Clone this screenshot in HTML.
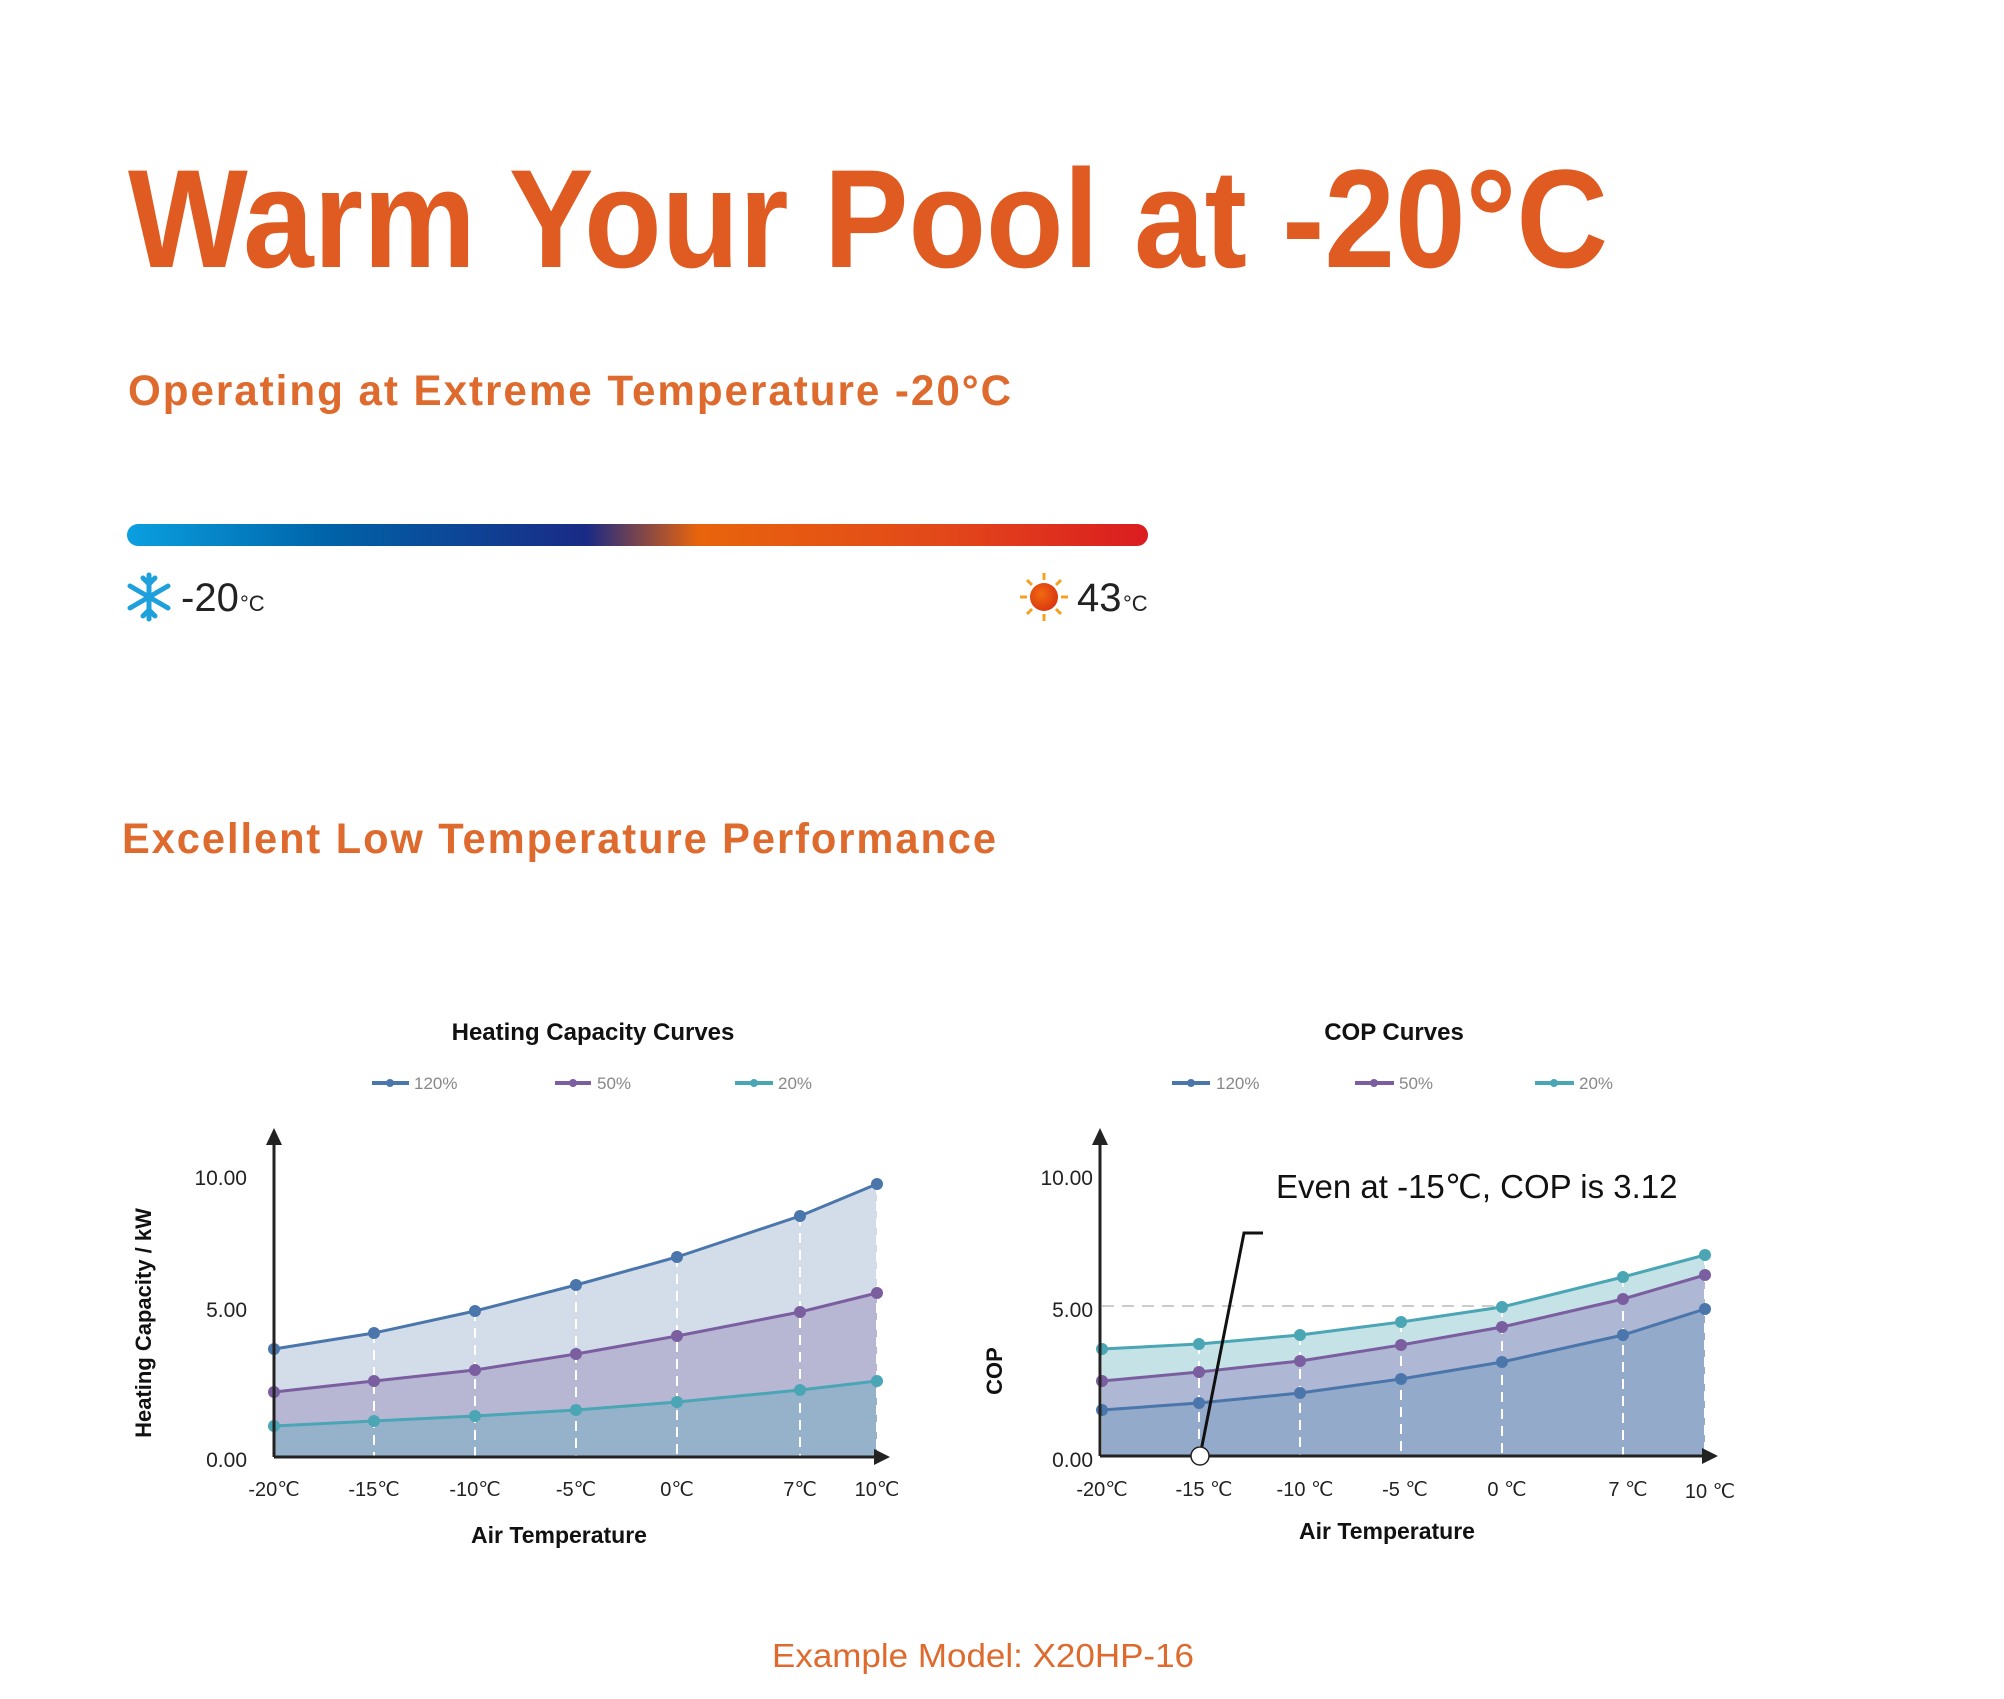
<!DOCTYPE html>
<html><head><meta charset="utf-8"><style>html,body{margin:0;padding:0;background:#fff}svg{display:block}</style></head>
<body>
<svg width="2004" height="1699" viewBox="0 0 2004 1699" xmlns="http://www.w3.org/2000/svg" font-family="Liberation Sans, sans-serif">
<defs>
<linearGradient id="bar" x1="0" x2="1" y1="0" y2="0">
<stop offset="0" stop-color="#0aa0e0"/><stop offset="0.2" stop-color="#0062a8"/><stop offset="0.45" stop-color="#1a2a85"/><stop offset="0.56" stop-color="#e8640c"/><stop offset="0.8" stop-color="#e2481a"/><stop offset="1" stop-color="#db1c20"/>
</linearGradient>
<radialGradient id="sun" cx="0.4" cy="0.4" r="0.7"><stop offset="0" stop-color="#f06a10"/><stop offset="1" stop-color="#d8300f"/></radialGradient>
</defs>
<text x="128" y="267" font-size="140" font-weight="bold" fill="#df5b22" textLength="1480" lengthAdjust="spacingAndGlyphs">Warm Your Pool at -20°C</text>
<text x="128" y="405" font-size="43" font-weight="bold" fill="#df6a2e" textLength="885" lengthAdjust="spacingAndGlyphs" letter-spacing="2">Operating at Extreme Temperature -20°C</text>
<rect x="127" y="524" width="1021" height="22" rx="11" fill="url(#bar)"/>
<g stroke="#1ea0dc" stroke-width="5" stroke-linecap="round" fill="none" transform="translate(149,597)">
<line x1="0" y1="-22" x2="0" y2="22"/><line x1="-19" y1="-11" x2="19" y2="11"/><line x1="-19" y1="11" x2="19" y2="-11"/>
<polyline points="-6,-19 0,-13 6,-19"/><polyline points="-6,19 0,13 6,19"/>
</g>
<text x="181" y="611" font-size="40" fill="#222">-20</text><text x="240" y="611" font-size="22" fill="#222">°C</text>
<g transform="translate(1044,597)">
<g stroke="#f5a020" stroke-width="3"><line x1="0" y1="-24" x2="0" y2="-17"/><line x1="0" y1="24" x2="0" y2="17"/><line x1="-24" y1="0" x2="-17" y2="0"/><line x1="24" y1="0" x2="17" y2="0"/><line x1="-17" y1="-17" x2="-12" y2="-12"/><line x1="17" y1="17" x2="12" y2="12"/><line x1="-17" y1="17" x2="-12" y2="12"/><line x1="17" y1="-17" x2="12" y2="-12"/></g>
<circle r="14" fill="url(#sun)"/></g>
<text x="1077" y="611" font-size="40" fill="#222">43</text><text x="1123" y="611" font-size="22" fill="#222">°C</text>
<text x="122" y="853" font-size="43" font-weight="bold" fill="#df6a2e" textLength="876" lengthAdjust="spacingAndGlyphs" letter-spacing="2">Excellent Low Temperature Performance</text>
<text x="983" y="1667" font-size="33" fill="#df6a2e" text-anchor="middle" textLength="422" lengthAdjust="spacingAndGlyphs">Example Model: X20HP-16</text>

<!-- Chart 1 -->
<g>
<text x="593" y="1040" font-size="24" font-weight="bold" text-anchor="middle" fill="#111">Heating Capacity Curves</text>
<g font-size="17" fill="#888">
<line x1="372" y1="1083" x2="409" y2="1083" stroke="#4a76ab" stroke-width="4"/><circle cx="390" cy="1083" r="4" fill="#4a76ab"/><text x="414" y="1089">120%</text>
<line x1="555" y1="1083" x2="591" y2="1083" stroke="#7b5ea0" stroke-width="4"/><circle cx="573" cy="1083" r="4" fill="#7b5ea0"/><text x="597" y="1089">50%</text>
<line x1="735" y1="1083" x2="773" y2="1083" stroke="#4aa5b5" stroke-width="4"/><circle cx="754" cy="1083" r="4" fill="#4aa5b5"/><text x="778" y="1089">20%</text>
</g>
<polygon points="274,1349 374,1333 475,1311 576,1285 677,1257 800,1216 877,1184 877,1457 274,1457" fill="#d3dde9"/>
<polygon points="274,1392 374,1381 475,1370 576,1354 677,1336 800,1312 877,1293 877,1457 274,1457" fill="#b7b7d4"/>
<polygon points="274,1426 374,1421 475,1416 576,1410 677,1402 800,1390 877,1381 877,1457 274,1457" fill="#95b2ca"/>
<g stroke="#fff" stroke-width="2" stroke-dasharray="10,7">
<line x1="374" y1="1333" x2="374" y2="1457"/><line x1="475" y1="1311" x2="475" y2="1457"/><line x1="576" y1="1285" x2="576" y2="1457"/><line x1="677" y1="1257" x2="677" y2="1457"/><line x1="800" y1="1216" x2="800" y2="1457"/><line x1="877" y1="1184" x2="877" y2="1457"/>
</g>
<polyline points="274,1349 374,1333 475,1311 576,1285 677,1257 800,1216 877,1184" fill="none" stroke="#4a76ab" stroke-width="3"/>
<polyline points="274,1392 374,1381 475,1370 576,1354 677,1336 800,1312 877,1293" fill="none" stroke="#7b5ea0" stroke-width="3"/>
<polyline points="274,1426 374,1421 475,1416 576,1410 677,1402 800,1390 877,1381" fill="none" stroke="#4aa5b5" stroke-width="3"/>
<g fill="#4a76ab"><circle cx="274" cy="1349" r="6"/><circle cx="374" cy="1333" r="6"/><circle cx="475" cy="1311" r="6"/><circle cx="576" cy="1285" r="6"/><circle cx="677" cy="1257" r="6"/><circle cx="800" cy="1216" r="6"/><circle cx="877" cy="1184" r="6"/></g>
<g fill="#7b5ea0"><circle cx="274" cy="1392" r="6"/><circle cx="374" cy="1381" r="6"/><circle cx="475" cy="1370" r="6"/><circle cx="576" cy="1354" r="6"/><circle cx="677" cy="1336" r="6"/><circle cx="800" cy="1312" r="6"/><circle cx="877" cy="1293" r="6"/></g>
<g fill="#4aa5b5"><circle cx="274" cy="1426" r="6"/><circle cx="374" cy="1421" r="6"/><circle cx="475" cy="1416" r="6"/><circle cx="576" cy="1410" r="6"/><circle cx="677" cy="1402" r="6"/><circle cx="800" cy="1390" r="6"/><circle cx="877" cy="1381" r="6"/></g>
<line x1="274" y1="1457" x2="274" y2="1140" stroke="#222" stroke-width="3"/><polygon points="274,1128 266,1145 282,1145" fill="#222"/>
<line x1="274" y1="1457" x2="878" y2="1457" stroke="#222" stroke-width="3"/><polygon points="890,1457 874,1449 874,1465" fill="#222"/>
<g font-size="21" fill="#222" text-anchor="end"><text x="247" y="1185">10.00</text><text x="247" y="1317">5.00</text><text x="247" y="1467">0.00</text></g>
<g font-size="20" fill="#222" text-anchor="middle"><text x="274" y="1496">-20℃</text><text x="374" y="1496">-15℃</text><text x="475" y="1496">-10℃</text><text x="576" y="1496">-5℃</text><text x="677" y="1496">0℃</text><text x="800" y="1496">7℃</text><text x="877" y="1496">10℃</text></g>
<text x="559" y="1543" font-size="23" font-weight="bold" text-anchor="middle" fill="#111">Air Temperature</text>
<text transform="translate(151,1323) rotate(-90)" font-size="22" font-weight="bold" text-anchor="middle" fill="#111">Heating Capacity / kW</text>
</g>

<!-- Chart 2 -->
<g>
<text x="1394" y="1040" font-size="24" font-weight="bold" text-anchor="middle" fill="#111">COP Curves</text>
<g font-size="17" fill="#888">
<line x1="1172" y1="1083" x2="1210" y2="1083" stroke="#4a76ab" stroke-width="4"/><circle cx="1191" cy="1083" r="4" fill="#4a76ab"/><text x="1216" y="1089">120%</text>
<line x1="1355" y1="1083" x2="1394" y2="1083" stroke="#7b5ea0" stroke-width="4"/><circle cx="1374" cy="1083" r="4" fill="#7b5ea0"/><text x="1399" y="1089">50%</text>
<line x1="1535" y1="1083" x2="1574" y2="1083" stroke="#4aa5b5" stroke-width="4"/><circle cx="1554" cy="1083" r="4" fill="#4aa5b5"/><text x="1579" y="1089">20%</text>
</g>
<polygon points="1102,1349 1199,1344 1300,1335 1401,1322 1502,1307 1623,1277 1705,1255 1705,1456 1102,1456" fill="#c5e2e7"/>
<polygon points="1102,1381 1199,1372 1300,1361 1401,1345 1502,1327 1623,1299 1705,1275 1705,1456 1102,1456" fill="#aeb7d3"/>
<polygon points="1102,1410 1199,1403 1300,1393 1401,1379 1502,1362 1623,1335 1705,1309 1705,1456 1102,1456" fill="#94aacb"/>
<line x1="1102" y1="1306" x2="1502" y2="1306" stroke="#ccc" stroke-width="2" stroke-dasharray="12,8"/>
<g stroke="#fff" stroke-width="2" stroke-dasharray="10,7">
<line x1="1199" y1="1344" x2="1199" y2="1456"/><line x1="1300" y1="1335" x2="1300" y2="1456"/><line x1="1401" y1="1322" x2="1401" y2="1456"/><line x1="1502" y1="1307" x2="1502" y2="1456"/><line x1="1623" y1="1277" x2="1623" y2="1456"/><line x1="1705" y1="1255" x2="1705" y2="1456"/>
</g>
<polyline points="1102,1349 1199,1344 1300,1335 1401,1322 1502,1307 1623,1277 1705,1255" fill="none" stroke="#4aa5b5" stroke-width="3"/>
<polyline points="1102,1381 1199,1372 1300,1361 1401,1345 1502,1327 1623,1299 1705,1275" fill="none" stroke="#7b5ea0" stroke-width="3"/>
<polyline points="1102,1410 1199,1403 1300,1393 1401,1379 1502,1362 1623,1335 1705,1309" fill="none" stroke="#4a76ab" stroke-width="3"/>
<g fill="#4aa5b5"><circle cx="1102" cy="1349" r="6"/><circle cx="1199" cy="1344" r="6"/><circle cx="1300" cy="1335" r="6"/><circle cx="1401" cy="1322" r="6"/><circle cx="1502" cy="1307" r="6"/><circle cx="1623" cy="1277" r="6"/><circle cx="1705" cy="1255" r="6"/></g>
<g fill="#7b5ea0"><circle cx="1102" cy="1381" r="6"/><circle cx="1199" cy="1372" r="6"/><circle cx="1300" cy="1361" r="6"/><circle cx="1401" cy="1345" r="6"/><circle cx="1502" cy="1327" r="6"/><circle cx="1623" cy="1299" r="6"/><circle cx="1705" cy="1275" r="6"/></g>
<g fill="#4a76ab"><circle cx="1102" cy="1410" r="6"/><circle cx="1199" cy="1403" r="6"/><circle cx="1300" cy="1393" r="6"/><circle cx="1401" cy="1379" r="6"/><circle cx="1502" cy="1362" r="6"/><circle cx="1623" cy="1335" r="6"/><circle cx="1705" cy="1309" r="6"/></g>
<line x1="1100" y1="1456" x2="1100" y2="1140" stroke="#222" stroke-width="3"/><polygon points="1100,1128 1092,1145 1108,1145" fill="#222"/>
<line x1="1100" y1="1456" x2="1706" y2="1456" stroke="#222" stroke-width="3"/><polygon points="1718,1456 1702,1448 1702,1464" fill="#222"/>
<polyline points="1200,1456 1244,1233 1263,1233" fill="none" stroke="#111" stroke-width="3"/>
<circle cx="1200" cy="1456" r="9" fill="#fff" stroke="#222" stroke-width="1.5"/>
<text x="1276" y="1198" font-size="33" fill="#111">Even at -15℃, COP is 3.12</text>
<g font-size="21" fill="#222" text-anchor="end"><text x="1093" y="1185">10.00</text><text x="1093" y="1317">5.00</text><text x="1093" y="1467">0.00</text></g>
<g font-size="20" fill="#222" text-anchor="middle"><text x="1102" y="1496">-20℃</text><text x="1204" y="1496">-15 ℃</text><text x="1305" y="1496">-10 ℃</text><text x="1405" y="1496">-5 ℃</text><text x="1507" y="1496">0 ℃</text><text x="1628" y="1496">7 ℃</text><text x="1710" y="1498">10 ℃</text></g>
<text x="1387" y="1539" font-size="23" font-weight="bold" text-anchor="middle" fill="#111">Air Temperature</text>
<text transform="translate(1002,1371) rotate(-90)" font-size="22" font-weight="bold" text-anchor="middle" fill="#111">COP</text>
</g>
</svg>
</body></html>
